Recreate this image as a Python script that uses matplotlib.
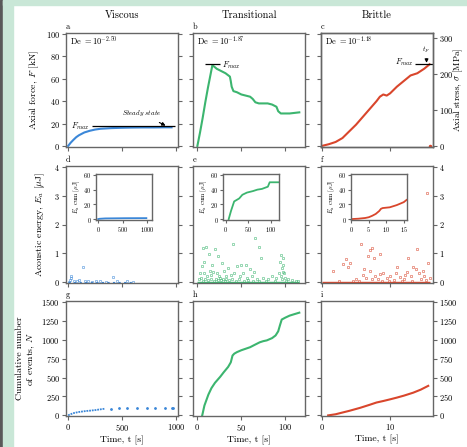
import numpy as np
import matplotlib
matplotlib.use('Agg')
import matplotlib.pyplot as plt
from matplotlib.patches import Rectangle

plt.rcParams['font.family'] = ['cmr10', 'DejaVu Serif']
plt.rcParams['mathtext.fontset'] = 'cm'
plt.rcParams['axes.formatter.use_mathtext'] = True
plt.rcParams['axes.unicode_minus'] = False

blue = '#3b87d8'
green = '#3cb56f'
red = '#d9462c'
grey = '#666666'

# ---- data ----
titles = ['Viscous', 'Transitional', 'Brittle']
deborah = [r'De $=10^{-2.50}$', r'De $=10^{-1.87}$', r'De $=10^{-1.18}$']

# row 1: axial force [kN]
a_t = [0, 10, 25, 50, 75, 100, 150, 200, 250, 300, 400, 500, 600, 700, 800, 900, 960]
a_F = [0, 1.2, 3.0, 5.5, 7.8, 9.5, 12.0, 13.5, 14.6, 15.3, 15.9, 16.2, 16.4, 16.5, 16.5, 16.6, 16.6]
a_Fmax = 17.6

b_t = [0, 3, 6, 9, 12, 15, 17, 19, 22, 27, 32, 37, 38, 39, 41, 45, 50, 55, 60, 63,
       66, 70, 80, 85, 90, 92, 95, 105, 116]
b_F = [0, 12, 25, 39, 52, 64, 72, 71, 69, 67, 65, 62, 58, 53, 49, 48, 46, 45, 44, 42,
       39, 38, 38, 37, 35, 31, 29, 29, 30]
b_Fmax = 73

c_t = [0, 1, 2, 3, 4, 5, 6, 7, 8, 8.5, 9, 9.5, 10, 11, 12, 13, 13.5, 14, 15, 15.8]
c_F = [0, 1.5, 3.5, 7, 13, 19, 26, 33, 40, 44, 46, 45, 47, 53, 58, 63, 64, 65, 69, 73]
c_Fmax = 73.5
c_fail_t = [15.8]
c_fail_F = [0.3]

# row 2: acoustic energy [uJ]
d_t = [5, 15, 25, 25, 50, 80, 100, 142, 160, 185, 220, 260, 300, 350, 418, 450, 545, 600]
d_E = [0.02, 0.06, 0.21, 0.13, 0.05, 0.03, 0.08, 0.51, 0.04, 0.03, 0.02, 0.05, 0.03,
       0.02, 0.17, 0.03, 0.04, 0.02]

e_t = [66, 70, 72, 40, 6, 10, 20, 13, 24, 7, 17, 95, 97, 94, 98, 96, 45, 50, 55, 60,
       35, 30, 28, 14, 3, 5, 8, 11, 15, 18, 22, 26, 32, 38, 42, 48, 52, 57, 62, 65,
       68, 75, 80, 85, 90, 93, 99, 100, 103, 108, 112, 2, 4, 6, 9, 12, 16, 19, 21, 23,
       25, 27, 29, 31, 33, 36, 39, 44, 47, 53, 58, 63, 70, 78, 88, 95, 96, 97, 101, 115]
e_E = [1.52, 1.23, 0.85, 1.33, 1.2, 1.22, 1.15, 0.97, 0.9, 0.7, 0.6, 0.95, 0.85, 0.7,
       0.6, 0.5, 0.55, 0.6, 0.6, 0.45, 0.5, 0.4, 0.65, 0.4, 0.3, 0.55, 0.3, 0.2, 0.25,
       0.35, 0.3, 0.15, 0.2, 0.25, 0.3, 0.2, 0.3, 0.15, 0.2, 0.35, 0.1, 0.15, 0.1, 0.2,
       0.15, 0.3, 0.3, 0.15, 0.1, 0.08, 0.05, 0.1, 0.15, 0.05, 0.12, 0.08, 0.1, 0.05,
       0.12, 0.06, 0.2, 0.08, 0.12, 0.05, 0.1, 0.07, 0.1, 0.05, 0.1, 0.05, 0.08, 0.05,
       0.05, 0.04, 0.05, 0.2, 0.1, 0.35, 0.05, 0.03]

f_t = [15.4, 5.7, 7.1, 7.3, 6.8, 8.5, 7.6, 12.6, 14, 15.6, 3.5, 4.1, 3.1, 3.8, 1.6, 11,
       13.4, 13.8, 12.5, 8.5, 7.1, 6, 6.5, 7.8, 8.2, 9, 9.5, 10, 10.5, 11.5, 12, 13,
       13.2, 14.3, 14.6, 15, 15.2, 15.8, 5, 4.5, 2.5, 5.5, 8.8, 10.8, 12.2, 14.9, 11.8,
       9.8, 6.2, 7.4]
f_E = [3.08, 1.33, 1.13, 1.2, 0.92, 0.99, 0.85, 0.85, 1.16, 0.65, 0.79, 0.65, 0.62,
       0.51, 0.38, 0.51, 0.51, 0.44, 0.34, 0.27, 0.38, 0.25, 0.15, 0.2, 0.1, 0.3, 0.15,
       0.22, 0.08, 0.18, 0.1, 0.2, 0.05, 0.3, 0.12, 0.2, 0.08, 0.15, 0.1, 0.05, 0.05,
       0.05, 0.05, 0.3, 0.25, 0.4, 0.05, 0.05, 0.45, 0.1]

# insets: cumulative acoustic energy [uJ]
di_t = [0, 25, 142, 418, 545, 980]
di_E = [0, 0.4, 0.9, 1.1, 1.2, 1.3]
ei_t = [7, 12, 19, 30, 37, 47, 60, 70, 80, 93, 95, 97, 105, 118]
ei_E = [0, 11, 24, 28, 33, 36, 38, 40, 41, 44, 47, 50, 50, 50]
fi_t = [0, 2, 4, 5, 6, 7, 8, 8.5, 9, 10, 11, 12, 13, 14, 15, 15.8]
fi_E = [0, 0.5, 1.5, 2.5, 4.5, 7, 11, 14, 15, 15.5, 16, 17.5, 19, 21, 23, 26]

# row 3: cumulative number of events
g_t = [0, 10, 20, 35, 50, 75, 100, 125, 150, 175, 200, 225, 250, 275, 300, 320, 340]
g_N = [0, 8, 15, 22, 30, 38, 45, 50, 55, 59, 62, 66, 70, 75, 80, 84, 88]
g2_t = [400, 470, 550, 640, 730, 810, 900, 960, 975]
g2_N = [90, 92, 94, 95, 96, 97, 98, 99, 100]

h_t = [5.5, 8, 12.5, 16, 20, 26, 30, 35, 38, 40, 42, 45, 50, 55, 60, 65, 71, 75, 79,
       85, 89, 92, 94, 96, 100, 105, 110, 116]
h_N = [0, 130, 274, 360, 430, 510, 570, 640, 700, 790, 815, 835, 860, 880, 900, 930,
       965, 980, 990, 1020, 1055, 1110, 1190, 1265, 1290, 1317, 1335, 1356]

i_t = [0.9, 2, 3.1, 4, 5.6, 7, 8, 9, 10, 11, 12, 13.4, 14.5, 15.6]
i_N = [0, 15, 40, 60, 100, 140, 170, 190, 212, 235, 260, 300, 340, 390]

# ---- layout ----
W, H = 467, 447
fig = plt.figure(figsize=(W / 100, H / 100), dpi=100, facecolor='white')

# frame decoration
fig.patches.append(Rectangle((0, 0), 3 / W, 1, transform=fig.transFigure,
                             color='#595959', zorder=-5))
fig.patches.append(Rectangle((3 / W, 0), 10 / W, 1, transform=fig.transFigure,
                             color='#c9e7d7', zorder=-5))
fig.patches.append(Rectangle((3 / W, 1 - 5 / H), 1, 5 / H, transform=fig.transFigure,
                             color='#c9e7d7', zorder=-5))

cols = [(66, 178), (193, 305), (321, 433)]
rows = [(33, 147), (166, 283), (301, 416)]
xlims = [(-20, 1020), (-5, 122.5), (-0.15, 16.3)]
xticks = [[0, 500, 1000], [0, 50, 100], [0, 10]]
ylims = [(-1, 101), (-0.03, 4.03), (-8, 1510)]
yticks = [[0, 20, 40, 60, 80, 100], [0, 1, 2, 3, 4], [0, 250, 500, 750, 1000, 1250, 1500]]
letters = 'abcdefghi'
colors = [blue, green, red]


def style(ax, fs=6, ln=3):
    for s in ax.spines.values():
        s.set_color(grey)
        s.set_linewidth(1.0)
    ax.tick_params(direction='out', length=ln, width=0.8, color=grey,
                   labelsize=fs, pad=1.5)


axes = {}
for r, (y0, y1) in enumerate(rows):
    for c, (x0, x1) in enumerate(cols):
        ax = fig.add_axes([x0 / W, 1 - y1 / H, (x1 - x0) / W, (y1 - y0) / H])
        style(ax)
        ax.set_xlim(xlims[c])
        ax.set_xticks(xticks[c])
        ax.set_ylim(ylims[r])
        ax.set_yticks(yticks[r])
        ax.tick_params(axis='y', left=True, right=True,
                       labelleft=(c == 0), labelright=(c == 2 and r > 0))
        ax.tick_params(axis='x', labelbottom=(r == 2))
        ax.text(0.0, 1.015, letters[3 * r + c], transform=ax.transAxes,
                fontsize=6, fontweight='bold', va='bottom', ha='left')
        if r == 2:
            ax.set_xlabel('Time, t [s]', fontsize=7, labelpad=2)
        axes[(r, c)] = ax

for c in range(3):
    axes[(0, c)].text(0.5, 1.16, titles[c], transform=axes[(0, c)].transAxes,
                      fontsize=7.5, ha='center', va='center')
    axes[(0, c)].text(0.04, 0.93, deborah[c], transform=axes[(0, c)].transAxes,
                      fontsize=6, ha='left', va='center')

axes[(0, 0)].set_ylabel('Axial force, $F$ [kN]', fontsize=7, labelpad=3)
axes[(1, 0)].set_ylabel(r'Acoustic energy, $E_a$ [$\mu$J]', fontsize=7, labelpad=5)
axes[(2, 0)].set_ylabel('Cumulative number\nof events, $N$', fontsize=7, labelpad=3)

# row 1
ax = axes[(0, 0)]
ax.plot(a_t, a_F, color=blue, lw=1.5)
ax.hlines(a_Fmax, 220, 990, color='k', lw=0.9)
ax.text(200, a_Fmax, r'$F_{max}$', fontsize=6, ha='right', va='center')
ax.annotate(r'$\mathit{Steady\ state}$', xy=(905, a_Fmax + 0.5), xytext=(680, 29),
            fontsize=5, ha='center', va='center',
            arrowprops=dict(arrowstyle='-|>', color='k', lw=0.8,
                            mutation_scale=5, shrinkA=2, shrinkB=0))

ax = axes[(0, 1)]
ax.plot(b_t, b_F, color=green, lw=1.5)
ax.hlines(b_Fmax, 9, 26, color='k', lw=0.9)
ax.text(28, b_Fmax - 1, r'$F_{max}$', fontsize=6, ha='left', va='center')

ax = axes[(0, 2)]
ax.plot(c_t, c_F, color=red, lw=1.5)
ax.plot(c_fail_t, c_fail_F, 'o', color=red, ms=1.5)
ax.hlines(c_Fmax, 13.7, 16.3, color='k', lw=0.9)
ax.text(13.4, c_Fmax + 1, r'$F_{max}$', fontsize=6, ha='right', va='center')
ax.annotate(r'$t_F$', xy=(15.35, c_Fmax + 0.8), xytext=(15.35, 86),
            fontsize=5, ha='center', va='center',
            arrowprops=dict(arrowstyle='-|>', color='k', lw=0.8,
                            mutation_scale=5, shrinkA=1, shrinkB=0))
ax.tick_params(axis='y', right=False)
ax2 = ax.twinx()
style(ax2)
ax2.set_ylim(ylims[0][0] * 3.1, ylims[0][1] * 3.1)
ax2.set_yticks([0, 100, 200, 300])
ax2.set_ylabel(r'Axial stress, $\sigma$ [MPa]', fontsize=6.5)
ax2.yaxis.set_label_coords(1.17, 0.5)

# row 2
for c, (tt, EE) in enumerate([(d_t, d_E), (e_t, e_E), (f_t, f_E)]):
    ax = axes[(1, c)]
    ax.plot(tt, EE, 's', mfc='none', mec=colors[c], mew=0.5, ms=1.5, alpha=0.75)
# dense near-zero events drawn along the bottom
axes[(1, 0)].hlines(0.0, 0, 600, color=blue, lw=0.8, linestyles=(0, (2, 3)))
axes[(1, 1)].hlines(0.0, 0, 116, color=green, lw=1.0)
axes[(1, 2)].hlines(0.0, 0, 15.8, color=red, lw=1.0)

insets = [(di_t, di_E, [0, 500, 1000], (-40, 1100)),
          (ei_t, ei_E, [0, 50, 100], (-5, 118)),
          (fi_t, fi_E, [0, 5, 10, 15], (0, 16))]
for c, (tt, EE, xt, xl) in enumerate(insets):
    ins = axes[(1, c)].inset_axes([0.27, 0.54, 0.5, 0.39])
    style(ins, fs=4.5, ln=2)
    ins.plot(tt, EE, color=colors[c], lw=1.3)
    ins.set_xlim(xl)
    ins.set_xticks(xt)
    ins.set_ylim(-1, 61)
    ins.set_yticks([0, 20, 40, 60])
    ins.set_ylabel(r'$E_a$ cum [$\mu$J]', fontsize=4.5, labelpad=1)

# row 3
ax = axes[(2, 0)]
ax.plot(g_t, g_N, color=blue, lw=1.3, ls=(0, (1, 0.5)))
ax.plot(g2_t, g2_N, 'o', color=blue, ms=1.0)
axes[(2, 1)].plot(h_t, h_N, color=green, lw=1.5)
axes[(2, 2)].plot(i_t, i_N, color=red, lw=1.5)

plt.savefig('out.png', dpi=100, facecolor='white')
